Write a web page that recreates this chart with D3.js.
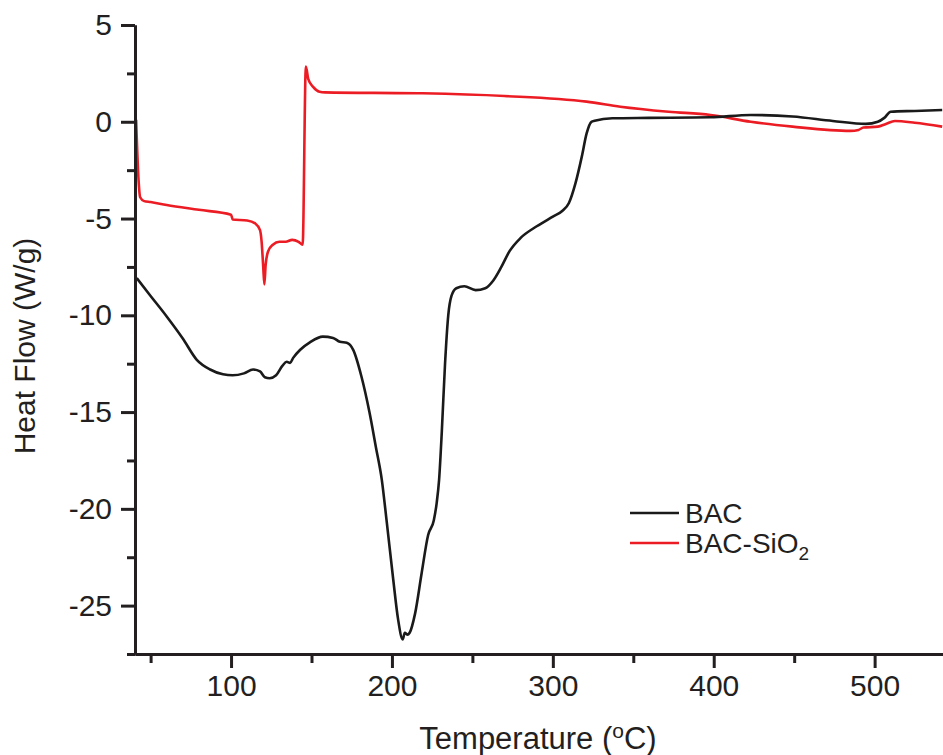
<!DOCTYPE html>
<html>
<head>
<meta charset="utf-8">
<script src="https://cdn.jsdelivr.net/npm/d3@7"></script>
<style>
  body { margin: 0; background: #fff; }
  text { font-family: "Liberation Sans", Arial, sans-serif; fill: #231f20; }
</style>
</head>
<body>
<div id="chart"></div>
<script>
// BAC curve (temperature °C, heat flow W/g)
const bacTemp = [41.4, 50, 60, 70, 78.7, 87, 95, 101, 108, 113.7, 118, 121, 124, 128, 132, 134.6, 136.7, 138.6, 143, 149, 157, 163.4, 167.7, 171.9, 176, 181, 186, 190, 193.7, 196.8, 200.8, 203.8, 206.7, 208, 209.5, 211, 214.4, 218.5, 222.5, 226, 227.8, 229.3, 231, 233, 235, 237, 240, 245, 252, 258, 263, 268, 273, 280, 290, 300, 306, 310, 314, 318, 321, 324, 326, 337, 360, 398, 423, 449, 474, 494.6, 502, 506, 510, 525, 542];
const bacFlow = [-8.08, -9.0, -10.06, -11.2, -12.3, -12.8, -13.05, -13.1, -13.0, -12.8, -12.9, -13.2, -13.25, -13.1, -12.6, -12.4, -12.46, -12.2, -11.78, -11.4, -11.1, -11.17, -11.37, -11.42, -11.8, -13.15, -15.0, -16.8, -18.5, -20.7, -23.65, -25.7, -26.75, -26.4, -26.5, -26.4, -25.4, -23.3, -21.35, -20.6, -19.7, -18.5, -16.0, -12.5, -10.0, -9.0, -8.6, -8.5, -8.7, -8.6, -8.2, -7.5, -6.7, -6.0, -5.4, -4.9, -4.6, -4.2, -3.2, -1.8, -0.6, 0.0, 0.05, 0.18, 0.2, 0.23, 0.35, 0.27, 0.04, -0.11, 0.0, 0.2, 0.52, 0.56, 0.61];

// BAC-SiO2 curve
const sioTemp = [41, 42.5, 43.5, 46, 50, 60, 80, 100, 101, 110, 115, 118, 119, 120, 120.7, 121.5, 123, 126, 130, 134, 138, 142, 144.5, 146.5, 148, 151, 155, 158.4, 219, 270, 321, 342, 372, 398, 423, 449, 485, 490, 493, 502, 507, 512.6, 525, 542];
const sioFlow = [0.1, -3.0, -3.9, -4.1, -4.15, -4.3, -4.55, -4.8, -5.05, -5.1, -5.25, -5.6, -6.2, -7.5, -8.4, -7.4, -6.7, -6.35, -6.2, -6.2, -6.1, -6.2, -6.35, 2.85, 2.2, 1.8, 1.55, 1.52, 1.47, 1.33, 1.04, 0.78, 0.52, 0.35, 0.0, -0.25, -0.47, -0.42, -0.3, -0.25, -0.11, 0.04, -0.05, -0.25];

const xMajor = [100, 200, 300, 400, 500];
const xMinor = [50, 150, 250, 350, 450];
const yMajor = [5, 0, -5, -10, -15, -20, -25];
const yMinor = [2.5, -2.5, -7.5, -12.5, -17.5, -22.5, -27.5];

const seriesNames = ["BAC", "BAC-SiO2"];
const seriesColors = ["#1a1a1a", "#ec1c24"];

const width = 943, height = 755;
const x = d3.scaleLinear().domain([40.3, 542.5]).range([135, 943]);
const y = d3.scaleLinear().domain([-27.5, 5]).range([654, 25]);

const svg = d3.select("#chart").append("svg")
  .attr("width", width)
  .attr("height", height);

const line = d3.line()
  .x(d => x(d[0]))
  .y(d => y(d[1]))
  .curve(d3.curveMonotoneX);

const bac = bacTemp.map((t, i) => [t, bacFlow[i]]);
const sio = sioTemp.map((t, i) => [t, sioFlow[i]]);

svg.append("path").datum(sio)
  .attr("d", line)
  .attr("fill", "none")
  .attr("stroke", seriesColors[1])
  .attr("stroke-width", 2.6);

svg.append("path").datum(bac)
  .attr("d", line)
  .attr("fill", "none")
  .attr("stroke", seriesColors[0])
  .attr("stroke-width", 2.6);

// axes
function styleAxis(g) {
  g.select(".domain").attr("stroke", "#231f20").attr("stroke-width", 3);
  g.selectAll(".tick line").attr("stroke", "#231f20").attr("stroke-width", 3);
  g.selectAll(".tick text").style("font-size", "30px").attr("fill", "#231f20");
}

const plain = d => String(d); // hyphen minus like the original

svg.append("g")
  .attr("transform", "translate(0,654)")
  .call(d3.axisBottom(x).tickValues(xMinor).tickSize(9).tickSizeOuter(0).tickFormat(""))
  .call(styleAxis);
svg.append("g")
  .attr("transform", "translate(0,654)")
  .call(d3.axisBottom(x).tickValues(xMajor).tickSize(14).tickSizeOuter(0).tickPadding(7).tickFormat(plain))
  .call(styleAxis);

svg.append("g")
  .attr("transform", "translate(135,0)")
  .call(d3.axisLeft(y).tickValues(yMinor).tickSize(8).tickSizeOuter(0).tickFormat(""))
  .call(styleAxis);
svg.append("g")
  .attr("transform", "translate(135,0)")
  .call(d3.axisLeft(y).tickValues(yMajor).tickSize(14).tickSizeOuter(0).tickPadding(9).tickFormat(plain))
  .call(styleAxis);

// axis titles
svg.append("text")
  .attr("transform", "translate(35,346) rotate(-90)")
  .attr("text-anchor", "middle")
  .style("font-size", "30px")
  .text("Heat Flow (W/g)");

const xt = svg.append("text")
  .attr("x", 538)
  .attr("y", 749)
  .attr("text-anchor", "middle")
  .style("font-size", "31px");
xt.append("tspan").text("Temperature (");
xt.append("tspan").style("font-size", "21px").attr("dy", -11).text("o");
xt.append("tspan").attr("dy", 11).text("C)");

// legend
const legend = svg.append("g");
seriesNames.forEach((name, i) => {
  const ly = 513 + i * 30;
  legend.append("line")
    .attr("x1", 630).attr("x2", 679)
    .attr("y1", ly).attr("y2", ly)
    .attr("stroke", seriesColors[i])
    .attr("stroke-width", 2.6);
  const t = legend.append("text")
    .attr("x", 685)
    .attr("y", ly + 10)
    .style("font-size", "28px");
  if (name === "BAC-SiO2") {
    t.append("tspan").text("BAC-SiO");
    t.append("tspan").style("font-size", "19px").attr("dy", 7).text("2");
  } else {
    t.text(name);
  }
});
</script>
</body>
</html>
